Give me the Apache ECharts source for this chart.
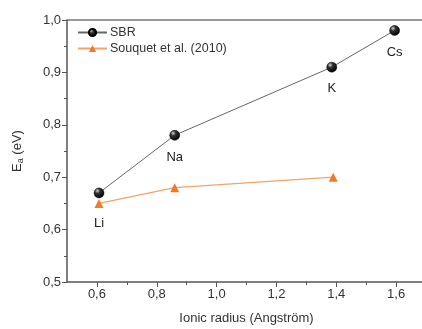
<!DOCTYPE html>
<html><head><meta charset="utf-8">
<script src="https://cdn.jsdelivr.net/npm/echarts@6/dist/echarts.min.js"></script>
<style>html,body{margin:0;padding:0;background:#fff}#c{width:422px;height:329px}</style>
</head><body><div id="c"></div>
<script>
const ions = ['Li', 'Na', 'K', 'Cs'];
const sbrRadius = [0.607, 0.86, 1.385, 1.595];
const sbrEa = [0.67, 0.78, 0.91, 0.98];
const souquetRadius = [0.607, 0.86, 1.39];
const souquetEa = [0.65, 0.68, 0.70];
const xMajorTicks = [0.6, 0.8, 1.0, 1.2, 1.4, 1.6];
const xMinorTicks = [0.7, 0.9, 1.1, 1.3, 1.5, 1.7];
const labelGaps = [19, 10, 10, 10];

const chart = echarts.init(document.getElementById('c'), null, {renderer: 'canvas'});
const font = 'Liberation Sans, Arial, sans-serif';
const axisColor = '#555';
const sphere = new echarts.graphic.RadialGradient(0.35, 0.3, 0.7, [
  {offset: 0, color: '#d8d8d8'}, {offset: 0.35, color: '#333'}, {offset: 1, color: '#000'}
]);
const fmt = v => v.toFixed(1).replace('.', ',');
const xBase = {type: 'value', min: 0.5, max: 1.7, interval: 0.1, splitLine: {show: false}};
chart.setOption({
  animation: false,
  grid: {left: 67, right: -4, top: 20, bottom: 47, containLabel: false, outerBoundsMode: 'none'},
  legend: {
    left: 77, top: 26, padding: 0, orient: 'vertical', itemGap: 3, itemWidth: 29, itemHeight: 9,
    textStyle: {fontFamily: font, fontSize: 12.5, color: '#333', padding: [0, 0, 0, -2]},
    data: ['SBR', 'Souquet et al. (2010)']
  },
  xAxis: [
    Object.assign({}, xBase, {
      name: 'Ionic radius (Angström)', nameLocation: 'middle', nameGap: 30,
      nameTextStyle: {fontFamily: font, fontSize: 13, color: '#333'},
      axisLine: {show: true, onZero: false, lineStyle: {color: axisColor, width: 1.5}},
      axisTick: {show: true, inside: false, length: 5, lineStyle: {color: axisColor}, customValues: xMajorTicks},
      axisLabel: {fontFamily: font, fontSize: 13, color: '#333', margin: 6, customValues: xMajorTicks, formatter: fmt}
    }),
    Object.assign({}, xBase, {
      position: 'bottom',
      axisLine: {show: false, onZero: false},
      axisTick: {show: true, inside: false, length: 3, lineStyle: {color: axisColor}, customValues: xMinorTicks},
      axisLabel: {show: false}
    })
  ],
  yAxis: {
    type: 'value', min: 0.5, max: 1.0, interval: 0.1,
    name: '{e|E}{s|a}{e| (eV)}', nameLocation: 'middle', nameGap: 42, nameRotate: 90,
    nameTextStyle: {rich: {
      e: {fontFamily: font, fontSize: 13, color: '#333'},
      s: {fontFamily: font, fontSize: 9, color: '#333', verticalAlign: 'bottom', padding: [6, 0, 0, 0]}
    }},
    axisLine: {show: true, lineStyle: {color: axisColor, width: 1.5}},
    axisTick: {show: true, inside: false, length: 5, lineStyle: {color: axisColor}},
    minorTick: {show: true, splitNumber: 2, length: 3, lineStyle: {color: axisColor}},
    axisLabel: {fontFamily: font, fontSize: 13, color: '#333', margin: 6, formatter: fmt},
    splitLine: {show: false}
  },
  graphic: [{type: 'line', shape: {x1: 67, y1: 20, x2: 422, y2: 20}, style: {stroke: '#777', lineWidth: 1.5}}],
  series: [
    {
      name: 'SBR', type: 'line',
      data: sbrRadius.map((x, i) => ({value: [x, sbrEa[i]], label: {distance: labelGaps[i]}})),
      symbol: 'circle', symbolSize: 10,
      itemStyle: {color: sphere, borderColor: '#000', borderWidth: 0.5},
      lineStyle: {color: '#666', width: 1},
      label: {show: true, position: 'bottom', fontFamily: font, fontSize: 13, color: '#222',
        formatter: p => ions[p.dataIndex]},
      z: 3
    },
    {
      name: 'Souquet et al. (2010)', type: 'line',
      data: souquetRadius.map((x, i) => [x, souquetEa[i]]),
      symbol: 'triangle', symbolSize: 9,
      itemStyle: {color: '#ef7a2a'},
      lineStyle: {color: '#f2a36a', width: 1.2},
      z: 2
    }
  ]
});
</script></body></html>
